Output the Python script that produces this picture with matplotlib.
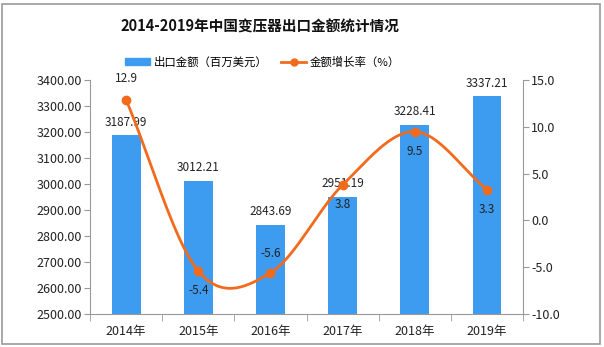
import numpy as np
import matplotlib
matplotlib.use("Agg")
import matplotlib.pyplot as plt
from matplotlib.patches import Rectangle
from matplotlib.lines import Line2D

plt.rcParams['font.family'] = ['Noto Sans CJK SC', 'DejaVu Sans']

years = ['2014年', '2015年', '2016年', '2017年', '2018年', '2019年']
export_value = [3187.99, 3012.21, 2843.69, 2951.19, 3228.41, 3337.21]
growth_rate = [12.9, -5.4, -5.6, 3.8, 9.5, 3.3]

bar_color = '#3e9cf0'
line_color = '#f26b1d'
text_color = '#222222'

fig = plt.figure(figsize=(6.04, 3.47), dpi=100)
fig.patches.append(Rectangle((0.004, 0.01), 0.99, 0.978, transform=fig.transFigure,
                             fill=False, edgecolor='#999999', linewidth=1.2))

ax = fig.add_axes([0.149, 0.095, 0.717, 0.674])
x = np.arange(len(years))
ax.bar(x, export_value, width=0.4, color=bar_color, zorder=2)
ax.set_ylim(2500, 3400)
ax.set_xlim(-0.5, len(years) - 0.5)
ax.set_yticks(np.arange(2500, 3401, 100))
ax.set_yticklabels([f'{v:.2f}' for v in np.arange(2500, 3401, 100)], fontsize=9, color=text_color)
ax.set_xticks(x)
ax.set_xticklabels(years, fontsize=9, color=text_color)
ax.set_xticks(np.arange(-0.5, len(years), 1), minor=True)
ax.tick_params(axis='x', which='major', length=0, pad=8)
ax.tick_params(axis='x', which='minor', length=5, color='#999999')
ax.tick_params(axis='y', length=4, color='#999999', pad=2)
for s in ['top', 'right']:
    ax.spines[s].set_visible(False)
for s in ['left', 'bottom']:
    ax.spines[s].set_color('#999999')

for xi, v in zip(x, export_value):
    ax.text(xi, v + 25, f'{v:.2f}', ha='center', va='bottom', fontsize=8.5, color=text_color)

ax2 = ax.twinx()
ax2.set_ylim(-10, 15)
ax2.set_yticks(np.arange(-10, 15.1, 5))
ax2.set_yticklabels([f'{v:.1f}' for v in np.arange(-10, 15.1, 5)], fontsize=9, color=text_color)
ax2.tick_params(axis='y', length=4, color='#999999', pad=2)
for s in ['top', 'left', 'bottom']:
    ax2.spines[s].set_visible(False)
ax2.spines['right'].set_color('#999999')

# smooth curve via Catmull-Rom through the data points
def catmull(xs, ys, n=40):
    xs = np.asarray(xs, float); ys = np.asarray(ys, float)
    px = np.concatenate([[2*xs[0]-xs[1]], xs, [2*xs[-1]-xs[-2]]])
    py = np.concatenate([[2*ys[0]-ys[1]], ys, [2*ys[-1]-ys[-2]]])
    ox, oy = [], []
    for i in range(1, len(px) - 2):
        t = np.linspace(0, 1, n)
        p0, p1, p2, p3 = [np.array([px[j], py[j]]) for j in range(i-1, i+3)]
        pts = 0.5 * ((2*p1)[:, None] + (-p0 + p2)[:, None]*t + (2*p0 - 5*p1 + 4*p2 - p3)[:, None]*t**2
                     + (-p0 + 3*p1 - 3*p2 + p3)[:, None]*t**3)
        ox.extend(pts[0]); oy.extend(pts[1])
    return np.array(ox), np.array(oy)

cx, cy = catmull(x, growth_rate)
ax2.plot(cx, cy, color=line_color, linewidth=2, zorder=3)
ax2.plot(x, growth_rate, 'o', color=line_color, markersize=6, zorder=4)

offsets = [(0, 1.6, 'bottom'), (0, -1.4, 'top'), (0, 1.4, 'bottom'), (0, -1.4, 'top'), (0, -1.4, 'top'), (0, -1.4, 'top')]
for xi, v, (dx, dy, va) in zip(x, growth_rate, offsets):
    ax2.text(xi + dx, v + dy, f'{v:.1f}', ha='center', va=va, fontsize=8.5, color=text_color, zorder=5)

fig.text(0.43, 0.922, '2014-2019年中国变压器出口金额统计情况', ha='center', va='center',
         fontsize=10.5, fontweight='bold', color='#111111')

handles = [Rectangle((0, 0), 1, 1, color=bar_color),
           Line2D([0], [0], color=line_color, linewidth=2, marker='o', markersize=5)]
fig.legend(handles, ['出口金额（百万美元）', '金额增长率（%）'], loc='center',
           bbox_to_anchor=(0.435, 0.821), ncol=2, frameon=False, fontsize=8.2,
           handlelength=2.2, handleheight=0.5, columnspacing=1.2, handletextpad=0.3)

fig.savefig('out.png', dpi=100)
